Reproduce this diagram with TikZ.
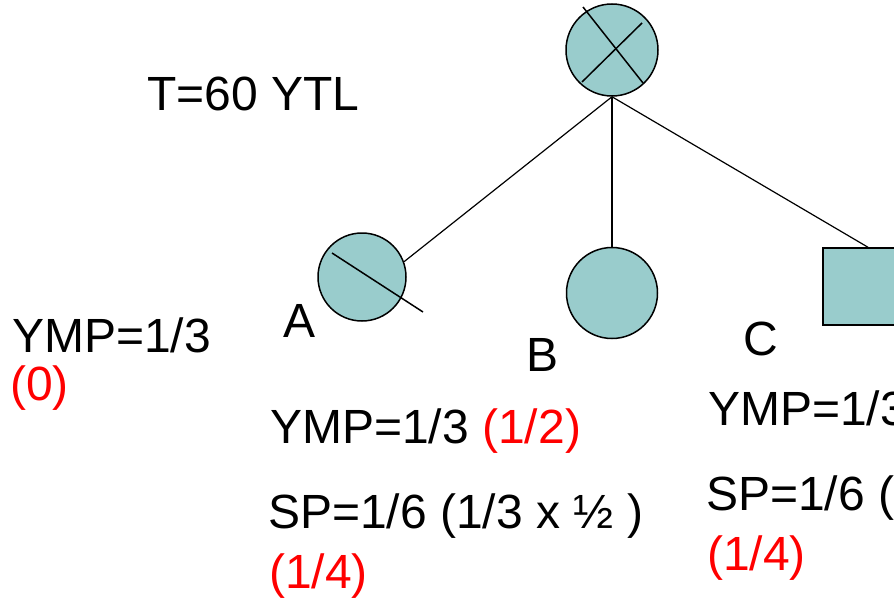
\documentclass[tikz,border=0pt]{standalone}
\usepackage{fontspec}
\setmainfont{Liberation Sans}
\usepackage{tikz}
\definecolor{nodefill}{RGB}{153,204,204}
\begin{document}
\begin{tikzpicture}[x=1pt,y=-1pt,
    player/.style={draw,line width=1.5pt,fill=nodefill,circle,inner sep=0pt},
    txt/.style={anchor=base west,inner sep=0pt,font=\fontsize{48}{56}\selectfont},
    redtxt/.style={txt,text=red}]
      \useasboundingbox (0,0) rectangle (894,599);
      \clip (0,0) rectangle (894,599);
      \node[player,minimum size=92pt] (top) at (612,50) {};
      \node[player,minimum size=88pt] (a) at (362,277) {};
      \node[player,minimum size=91pt] (b) at (612,293) {};
      \node[draw,line width=1.5pt,fill=nodefill,inner sep=0pt,
            minimum width=90pt,minimum height=77pt] (c) at (868,286.5) {};
      \draw[line width=1.5pt] ([shift={(-29,-43)}]top.center)
      -- ([shift={(31,33)}]top.center);
      \draw[line width=1.5pt] ([shift={(30,-27)}]top.center)
      -- ([shift={(-30,32)}]top.center);
      \draw[line width=1.5pt] ([shift={(-30,-24)}]a.center)
      -- ([shift={(61,35)}]a.center);
      \draw[line width=1.2pt] (top.south) -- (a.20);
      \draw[line width=1.2pt] (top.south) -- (b.north);
      \draw[line width=1.2pt] (top.south) -- (c.north);
      \node[txt] (total) at (147,111) {T=60 YTL};
      \node[txt] (ympa) at (12,352) {YMP=1/3};
      \node[redtxt] (ympared) at (10,400) {(0)};
      \node[txt] (lbla) at (283,337) {A};
      \node[txt] (lblb) at (526,371) {B};
      \node[txt] (lblc) at (743,355) {C};
      \node[txt] (ympb) at (270,443) {YMP=1/3 \textcolor{red}{(1/2)}};
      \node[txt] (spb) at (268,528) {SP=1/6 (1/3 x ½ )};
      \node[redtxt] (spbred) at (269,588) {(1/4)};
      \node[txt] (ympc) at (708,425) {YMP=1/3};
      \node[txt] (spc) at (706,510) {SP=1/6 (};
      \node[redtxt] (spcred) at (707,570) {(1/4)};
    \end{tikzpicture}
\end{document}
